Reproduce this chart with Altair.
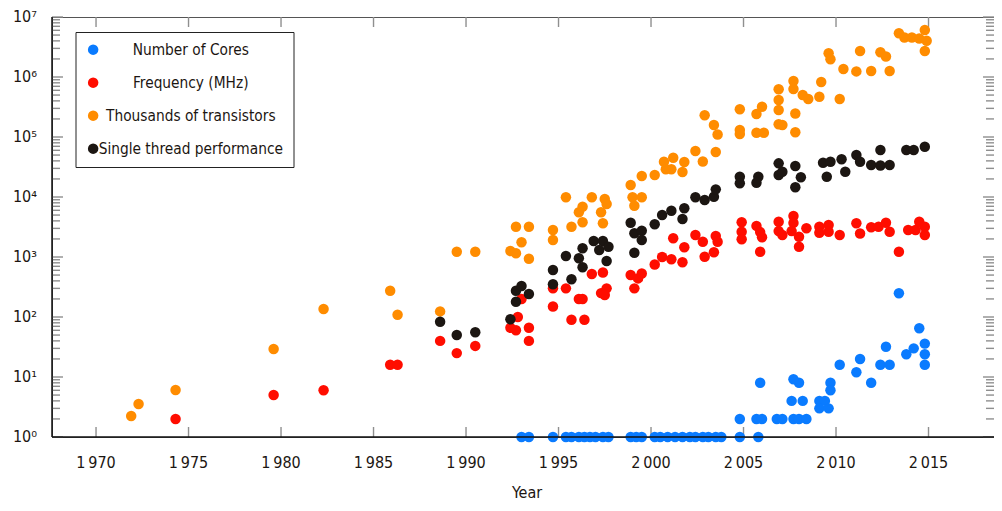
import altair as alt
import pandas as pd

FONT = "DejaVu Sans Condensed"
TEXT_COLOR = "#1c1612"
TICK_COLOR = "#8f8f8f"

series_names = ["Number of Cores", "Frequency (MHz)", "Thousands of transistors", "Single thread performance"]
series_colors = ["#0a7bff", "#ff0d00", "#ff8c00", "#1c1612"]

cores_year = [1993.0, 1993.4, 1994.7, 1995.4, 1995.7, 1996.1, 1996.4, 1996.7, 1997.0, 1997.4, 1997.7,
              1998.9, 1999.2, 1999.5, 2000.2, 2000.5, 2000.9, 2001.3, 2001.7, 2002.1, 2002.4, 2002.8,
              2003.1, 2003.5, 2003.8, 2004.8, 2005.8,
              2004.8, 2005.7, 2006.0, 2006.8, 2007.1, 2007.7, 2008.0, 2008.4,
              2007.6, 2008.2, 2009.1, 2009.4,
              2005.9, 2008.0, 2007.7, 2009.7,
              2009.1, 2009.6, 2009.7,
              2010.2, 2011.1, 2011.3, 2011.9, 2012.4, 2012.7, 2012.9, 2013.4, 2013.8, 2014.2,
              2014.5, 2014.8, 2014.8, 2014.8]
cores_value = [1, 1, 1, 1, 1, 1, 1, 1, 1, 1, 1,
               1, 1, 1, 1, 1, 1, 1, 1, 1, 1, 1,
               1, 1, 1, 1, 1,
               2, 2, 2, 2, 2, 2, 2, 2,
               4, 4, 4, 4,
               8, 8, 9.2, 8,
               3, 3, 6,
               16, 12, 20, 8, 16, 32, 16, 248, 24, 30,
               65, 36, 24, 16]

freq_year = [1974.3, 1979.6, 1982.3, 1985.9, 1986.3, 1988.6, 1989.5, 1990.5, 1992.4, 1992.7,
             1992.8, 1993.0, 1993.4, 1993.4, 1994.7, 1994.7, 1995.4, 1995.7, 1996.4, 1996.1,
             1996.3, 1996.8, 1997.4, 1997.3, 1997.6, 1997.5, 1998.9, 1999.1, 1999.3, 1999.5,
             2000.2, 2000.6, 2001.1, 2001.7, 2001.2, 2001.8, 2002.4, 2002.8, 2002.9, 2003.4,
             2003.5, 2003.6, 2004.9, 2004.9, 2004.9, 2005.7, 2005.9, 2006.0, 2005.9, 2006.9,
             2006.9, 2007.1, 2007.7, 2007.7, 2007.6, 2008.0, 2008.0, 2008.4, 2009.1, 2009.1,
             2009.6, 2009.6, 2010.2, 2011.1, 2011.3, 2011.9, 2012.3, 2012.7, 2012.9, 2013.4,
             2013.9, 2014.3, 2014.5, 2014.8, 2014.8]
freq_value = [2, 5, 6, 16, 16, 40, 25, 33, 66, 60,
              100, 200, 66, 40, 300, 150, 300, 90, 90, 200,
              200, 520, 550, 250, 300, 233, 500, 300, 440, 530,
              750, 1000, 916, 816, 2050, 1450, 2330, 1800, 1010, 1200,
              2240, 1800, 3800, 2640, 1970, 3300, 2600, 2130, 1225, 3880,
              2700, 2330, 4830, 3700, 2700, 2180, 1485, 3010, 3200, 2540,
              3410, 2640, 2330, 3650, 2460, 3130, 3200, 3730, 2640, 1225,
              2820, 2820, 3880, 3200, 2330]

trans_year = [1971.9, 1972.3, 1974.3, 1979.6, 1982.3, 1985.9, 1986.3, 1988.6, 1989.5, 1990.5,
              1992.4, 1992.7, 1992.7, 1993.4, 1993.0, 1993.4, 1994.7, 1994.7, 1995.4, 1995.7,
              1996.1, 1996.3, 1996.3, 1996.8, 1997.5, 1997.6, 1997.3, 1997.4, 1998.9, 1999.0,
              1999.5, 1999.1, 1999.5, 2000.2, 2000.7, 2001.2, 2000.8, 2001.1, 2001.7, 2001.8,
              2002.4, 2002.8, 2003.5, 2002.9, 2003.4, 2003.6, 2004.8, 2004.8, 2004.8, 2005.7,
              2006.0, 2005.7, 2006.1, 2006.9, 2006.9, 2006.9, 2006.9, 2007.1, 2007.7, 2007.7,
              2008.2, 2008.5, 2007.8, 2007.8, 2009.2, 2009.1, 2010.2, 2009.6, 2009.7, 2010.4,
              2011.3, 2011.1, 2011.9, 2012.4, 2012.7, 2012.9, 2013.4, 2013.7, 2014.1, 2014.5,
              2014.8, 2014.9, 2014.8]
trans_value = [2.24, 3.55, 6.07, 29.3, 136, 274, 109, 124, 1225, 1225,
               1259, 1153, 3200, 3200, 1758, 937, 2818, 1920, 9890, 3200,
               5560, 6890, 3790, 9890, 9260, 7640, 5560, 3650, 15800, 9890,
               9890, 7160, 22400, 23300, 38800, 45200, 29000, 29000, 26100, 38300,
               58400, 39000, 56200, 230000, 158000, 110000, 290000, 131000, 112000, 242000,
               320000, 118000, 118000, 414000, 624000, 282000, 163000, 158000, 858000, 631000,
               501000, 430000, 246000, 120000, 825000, 470000, 430000, 2480000, 1970000, 1360000,
               2710000, 1240000, 1260000, 2580000, 2200000, 1260000, 5350000, 4550000, 4550000, 4380000,
               6070000, 4010000, 2710000]

perf_year = [1988.6, 1989.5, 1990.5, 1992.4, 1992.7, 1992.7, 1993.0, 1993.4, 1994.7, 1994.7,
             1995.4, 1995.7, 1996.1, 1996.3, 1996.3, 1996.9, 1997.4, 1997.2, 1997.7, 1997.6,
             1998.9, 1999.1, 1999.5, 1999.5, 1999.1, 2000.2, 2000.6, 2001.1, 2001.8, 2001.7,
             2002.4, 2002.9, 2003.4, 2003.5, 2004.8, 2004.8, 2005.8, 2005.7, 2006.9, 2006.9,
             2007.1, 2007.8, 2008.1, 2007.8, 2009.3, 2009.7, 2009.5, 2010.3, 2010.5, 2011.1,
             2011.3, 2011.9, 2012.4, 2012.9, 2012.4, 2013.8, 2014.2, 2014.8]
perf_value = [83.5, 50, 55.6, 91.5, 180, 274, 328, 242, 607, 351,
              1040, 425, 951, 1396, 673, 1848, 1848, 1309, 1485, 858,
              3730, 2480, 2742, 1920, 1180, 3510, 5010, 5910, 6480, 4300,
              9890, 8910, 10100, 13400, 21800, 16900, 21800, 17300, 36400, 23300,
              26400, 32900, 21300, 14500, 37300, 38800, 21800, 42500, 26400, 50100,
              38800, 34100, 33600, 34100, 60700, 60700, 60700, 68900]

x_tick_years = [1970, 1975, 1980, 1985, 1990, 1995, 2000, 2005, 2010, 2015]
x_tick_labels = ["1\u2009970", "1\u2009975", "1\u2009980", "1\u2009985", "1\u2009990",
                 "1\u2009995", "2\u2009000", "2\u2009005", "2\u2009010", "2\u2009015"]
y_major_ticks = [1, 10, 100, 1000, 10000, 100000, 1000000, 10000000]
y_tick_labels = ["10\u2070", "10\u00b9", "10\u00b2", "10\u00b3", "10\u2074", "10\u2075", "10\u2076", "10\u2077"]
y_minor_ticks = [m * 10 ** k for k in range(7) for m in range(2, 10)]
x_title = "Year"

W, H = 942, 420
X_DOMAIN = [1967.62, 2018.54]
Y_DOMAIN = [1, 10000000]

frames = []
for name, ys, vs in [(series_names[0], cores_year, cores_value),
                     (series_names[1], freq_year, freq_value),
                     (series_names[2], trans_year, trans_value),
                     (series_names[3], perf_year, perf_value)]:
    frames.append(pd.DataFrame({"Year": ys, "Value": vs, "Series": name}))
df = pd.concat(frames, ignore_index=True)

xscale = alt.Scale(domain=X_DOMAIN, nice=False, zero=False)
yscale = alt.Scale(type="log", domain=Y_DOMAIN, nice=False)


def X(field="Year:Q"):
    return alt.X(field, scale=xscale, axis=None)


def Y(field="Value:Q"):
    return alt.Y(field, scale=yscale, axis=None)


points = alt.Chart(df).mark_circle(size=110, opacity=1).encode(
    x=X(), y=Y(),
    color=alt.Color("Series:N", scale=alt.Scale(domain=series_names, range=series_colors),
                    legend=alt.Legend(title=None, orient="none", legendX=23.5, legendY=15,
                                      labelAlign="center", labelOffset=90, labelLimit=400,
                                      labelFont=FONT, labelFontSize=15.3, labelColor=TEXT_COLOR,
                                      symbolType="circle", symbolSize=110, symbolStrokeWidth=0,
                                      symbolOpacity=1, strokeColor="#222", fillColor="white",
                                      padding=10, rowPadding=17)),
)

xt = pd.DataFrame({"Year": x_tick_years, "label": x_tick_labels})
yt = pd.DataFrame({"Value": y_major_ticks, "label": y_tick_labels})
ymin = pd.DataFrame({"Value": y_minor_ticks})
one = pd.DataFrame({"label": [x_title]})

# inward ticks on all four sides (tick marks centred half a length inside each edge)
def vtick(data, yc, length):
    return alt.Chart(data).mark_tick(color=TICK_COLOR, orient="vertical", size=length,
                                     thickness=1.4, opacity=1).encode(x=X(), y=alt.value(yc))


def htick(data, xc, length):
    return alt.Chart(data).mark_tick(color=TICK_COLOR, orient="horizontal", size=length,
                                     thickness=1.4, opacity=1).encode(y=Y(), x=alt.value(xc))


ticks = [
    vtick(xt, H - 5, 10), vtick(xt, 5, 10),
    htick(yt, 5.5, 11), htick(ymin, 4, 8),
    htick(yt, W - 5.5, 11), htick(ymin, W - 4, 8),
]

# black left / bottom axis lines
left_line = alt.Chart(one).mark_rule(color="#111", strokeWidth=1.5).encode(
    x=alt.value(0), y=alt.value(0), y2=alt.value(H))
bottom_line = alt.Chart(one).mark_rule(color="#111", strokeWidth=1.5).encode(
    x=alt.value(0), x2=alt.value(W), y=alt.value(H))

# tick labels and axis title
x_labels = alt.Chart(xt).mark_text(font=FONT, fontSize=16, color=TEXT_COLOR, align="center",
                                   baseline="middle").encode(x=X(), y=alt.value(H + 26), text="label:N")
y_labels = alt.Chart(yt).mark_text(font=FONT, fontSize=16, color=TEXT_COLOR, align="right",
                                   baseline="middle").encode(y=Y(), x=alt.value(-15), text="label:N")
title = alt.Chart(one).mark_text(font=FONT, fontSize=16, color=TEXT_COLOR, align="center",
                                 baseline="middle").encode(x=alt.value(475), y=alt.value(H + 56), text="label:N")

chart = alt.layer(
    *ticks, points, left_line, bottom_line, x_labels, y_labels, title
).properties(
    width=W, height=H,
    autosize=alt.AutoSizeParams(type="none"),
    padding={"left": 44, "top": 9, "right": 0, "bottom": 66},
).configure_view(
    stroke="#555", strokeWidth=1
)

chart.save("out.html", embed_options={"renderer": "svg", "actions": False})
